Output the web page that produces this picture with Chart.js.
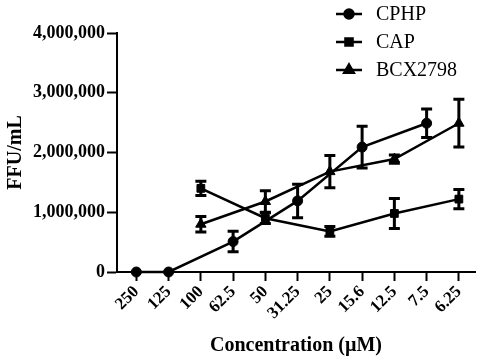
<!DOCTYPE html>
<html>
<head>
<meta charset="utf-8">
<script src="https://cdn.jsdelivr.net/npm/chart.js@4/dist/chart.umd.min.js"></script>
<style>
html,body{margin:0;padding:0;background:#fff;}
#wrap{width:482px;height:360px;position:relative;}
</style>
</head>
<body>
<div id="wrap"><canvas id="c" width="482" height="360"></canvas></div>
<script>
const categories = ['250','125','100','62.5','50','31.25','25','15.6','12.5','7.5','6.25'];
const seriesNames = ['CPHP','CAP','BCX2798'];
const cphpValues = [0, 0, null, 510000, null, 1190000, null, 2090000, null, 2490000, null];
const cphpErrors = [0, 0, null, 170000, null, 280000, null, 350000, null, 240000, null];
const capValues  = [null, null, 1400000, null, 900000, null, 680000, null, 980000, null, 1220000];
const capErrors  = [null, null, 120000, null, 90000, null, 80000, null, 250000, null, 160000];
const bcxValues  = [null, null, 800000, null, 1180000, null, 1680000, null, 1890000, null, 2490000];
const bcxErrors  = [null, null, 130000, null, 180000, null, 270000, null, 70000, null, 400000];
const yTicks = [0, 1000000, 2000000, 3000000, 4000000];

const FONT = "'Liberation Serif', 'Times New Roman', serif";

function toPoints(vals, errs) {
  const pts = [];
  vals.forEach((v, i) => { if (v !== null) pts.push({x: i, y: v, e: errs[i]}); });
  return pts;
}

const styles = ['circle', 'rect', 'triangle'];
const radii = [5, 5.5, 6];
const allVals = [[cphpValues, cphpErrors], [capValues, capErrors], [bcxValues, bcxErrors]];

const datasets = allVals.map((ve, k) => ({
  label: seriesNames[k],
  data: toPoints(ve[0], ve[1]),
  borderColor: '#000',
  backgroundColor: '#000',
  borderWidth: 2.5,
  pointStyle: styles[k],
  pointRadius: radii[k],
  pointBorderWidth: 1,
  pointBackgroundColor: '#000',
  pointBorderColor: '#000',
  tension: 0,
  clip: false
}));

const errorBars = {
  id: 'errorBars',
  afterDatasetsDraw(chart) {
    const ctx = chart.ctx;
    const xs = chart.scales.x, ys = chart.scales.y;
    ctx.save();
    ctx.strokeStyle = '#000';
    ctx.lineWidth = 3;
    chart.data.datasets.forEach(ds => {
      ds.data.forEach(p => {
        if (!p.e) return;
        const x = xs.getPixelForValue(p.x);
        const yt = ys.getPixelForValue(p.y + p.e);
        const yb = ys.getPixelForValue(p.y - p.e);
        ctx.beginPath();
        ctx.moveTo(x, yt); ctx.lineTo(x, yb);
        ctx.moveTo(x - 5.5, yt); ctx.lineTo(x + 5.5, yt);
        ctx.moveTo(x - 5.5, yb); ctx.lineTo(x + 5.5, yb);
        ctx.stroke();
      });
    });
    ctx.restore();
  }
};

const customLegend = {
  id: 'customLegend',
  afterDraw(chart) {
    const ctx = chart.ctx;
    ctx.save();
    const x0 = 336, x1 = 362, tx = 376;
    const rows = [14, 42, 70];
    chart.data.datasets.forEach((ds, i) => {
      const y = rows[i];
      ctx.strokeStyle = '#000';
      ctx.lineWidth = 2.5;
      ctx.beginPath(); ctx.moveTo(x0, y); ctx.lineTo(x1, y); ctx.stroke();
      ctx.fillStyle = '#000';
      Chart.helpers.drawPoint(ctx, {pointStyle: ds.pointStyle, radius: ds.pointRadius - 0.5, borderWidth: 1, rotation: 0}, (x0 + x1) / 2, y);
      ctx.fillStyle = '#000';
      ctx.font = '20px ' + FONT;
      ctx.textBaseline = 'middle';
      ctx.textAlign = 'left';
      ctx.fillText(ds.label, tx, y + 1);
    });
    ctx.restore();
  }
};

new Chart(document.getElementById('c'), {
  type: 'line',
  data: { datasets },
  options: {
    responsive: false,
    animation: false,
    layout: { padding: { top: 33, right: 2, left: 0, bottom: 0 } },
    plugins: { legend: { display: false }, tooltip: { enabled: false } },
    scales: {
      x: {
        type: 'linear',
        min: -0.6,
        max: 10.5,
        afterBuildTicks(scale) { scale.ticks = categories.map((c, i) => ({ value: i })); },
        afterFit(scale) { scale.height = 88; },
        ticks: {
          autoSkip: false,
          minRotation: 45,
          maxRotation: 45,
          padding: 1,
          color: '#000',
          font: { family: FONT, size: 17, weight: 'bold' },
          callback: (v) => categories[v]
        },
        grid: { drawOnChartArea: false, drawTicks: true, tickLength: 9, tickWidth: 2, tickColor: '#000' },
        border: { display: true, color: '#000', width: 2 },
        title: {
          display: true,
          text: 'Concentration (µM)',
          color: '#000',
          font: { family: FONT, size: 20, weight: 'bold' },
          padding: { top: 0, bottom: 2 }
        }
      },
      y: {
        min: 0,
        max: 4000000,
        afterBuildTicks(scale) { scale.ticks = yTicks.map(v => ({ value: v })); },
        afterFit(scale) { scale.width = 117; },
        ticks: {
          color: '#000',
          padding: 2,
          font: { family: FONT, size: 18, weight: 'bold' },
          callback: (v) => v.toLocaleString('en-US')
        },
        grid: { drawOnChartArea: false, drawTicks: true, tickLength: 10, tickWidth: 2, tickColor: '#000' },
        border: { display: true, color: '#000', width: 2 },
        title: {
          display: true,
          text: 'FFU/mL',
          color: '#000',
          font: { family: FONT, size: 20, weight: 'bold' },
          padding: { top: 4, bottom: 0 }
        }
      }
    }
  },
  plugins: [errorBars, customLegend]
});
</script>
</body>
</html>
